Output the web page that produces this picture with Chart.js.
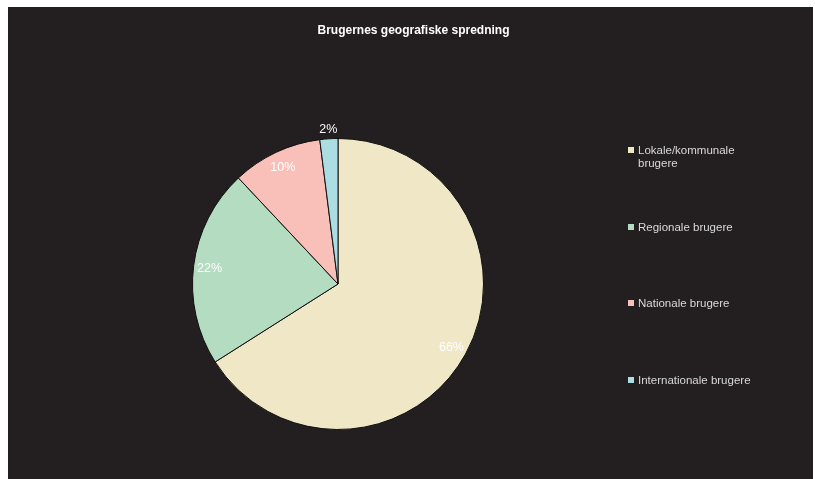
<!DOCTYPE html>
<html>
<head>
<meta charset="utf-8">
<script src="https://cdn.jsdelivr.net/npm/chart.js@4"></script>
<style>
    html, body { margin: 0; padding: 0; background: #ffffff; }
    #wrap { position: absolute; left: 8px; top: 7px; width: 805px; height: 472px; background: #231f20; }
</style>
</head>
<body>
<div id="wrap"><canvas id="chart"></canvas></div>
<script>
// Données du graphique
const titre = "Brugernes geografiske spredning";
const categories = [["Lokale/kommunale", "brugere"], ["Regionale brugere"], ["Nationale brugere"], ["Internationale brugere"]];
const valeurs = [66, 22, 10, 2];
const couleurs = ["#f0e7c6", "#b3dcc1", "#f9c0b9", "#acdde3"];

// Titre centré sur toute la largeur du graphique
const titrePlugin = {
    id: "titre",
    afterDraw(chart) {
        const ctx = chart.ctx;
        ctx.save();
        ctx.font = "bold 12px 'Liberation Sans', Arial, sans-serif";
        ctx.fillStyle = "#ffffff";
        ctx.textAlign = "center";
        ctx.textBaseline = "middle";
        ctx.fillText(titre, chart.width / 2 + 3, 24);
        ctx.restore();
    }
};

// Etiquettes de pourcentage sur les parts
const etiquettesPlugin = {
    id: "etiquettes",
    afterDatasetsDraw(chart) {
        const ctx = chart.ctx;
        const meta = chart.getDatasetMeta(0);
        ctx.save();
        ctx.font = "12.5px 'Liberation Sans', Arial, sans-serif";
        ctx.fillStyle = "#ffffff";
        ctx.textAlign = "center";
        ctx.textBaseline = "middle";
        meta.data.forEach((arc, i) => {
            const milieu = (arc.startAngle + arc.endAngle) / 2;
            // petite part : etiquette a l'exterieur
            const f = valeurs[i] < 5 ? 1.07 : 0.89;
            const x = arc.x + Math.cos(milieu) * arc.outerRadius * f;
            const y = arc.y + Math.sin(milieu) * arc.outerRadius * f;
            ctx.fillText(valeurs[i] + "%", x, y + 1);
        });
        ctx.restore();
    }
};

// Legende a droite, espacee comme dans l'original
const legendePlugin = {
    id: "legende",
    afterDraw(chart) {
        const ctx = chart.ctx;
        const lignesY = [143, 220, 296, 373];
        ctx.save();
        ctx.font = "11.5px 'Liberation Sans', Arial, sans-serif";
        ctx.textBaseline = "middle";
        categories.forEach((lignes, i) => {
            ctx.fillStyle = couleurs[i];
            ctx.fillRect(620, lignesY[i] - 3, 6, 6);
            ctx.fillStyle = "#d9d9d9";
            lignes.forEach((txt, j) => ctx.fillText(txt, 630, lignesY[i] + 1 + j * 13));
        });
        ctx.restore();
    }
};

new Chart(document.getElementById("chart"), {
    type: "pie",
    data: {
        labels: categories.map(c => c.join(" ")),
        datasets: [{
            data: valeurs,
            backgroundColor: couleurs,
            borderColor: "#111111",
            borderWidth: 1,
        }],
    },
    options: {
        responsive: true,
        maintainAspectRatio: false,
        animation: false,
        layout: {
            padding: { left: 184, right: 329, top: 131, bottom: 49 },
        },
        plugins: {
            legend: { display: false },
            tooltip: { enabled: false },
            title: { display: false },
        },
    },
    plugins: [titrePlugin, etiquettesPlugin, legendePlugin],
});
</script>
</body>
</html>
